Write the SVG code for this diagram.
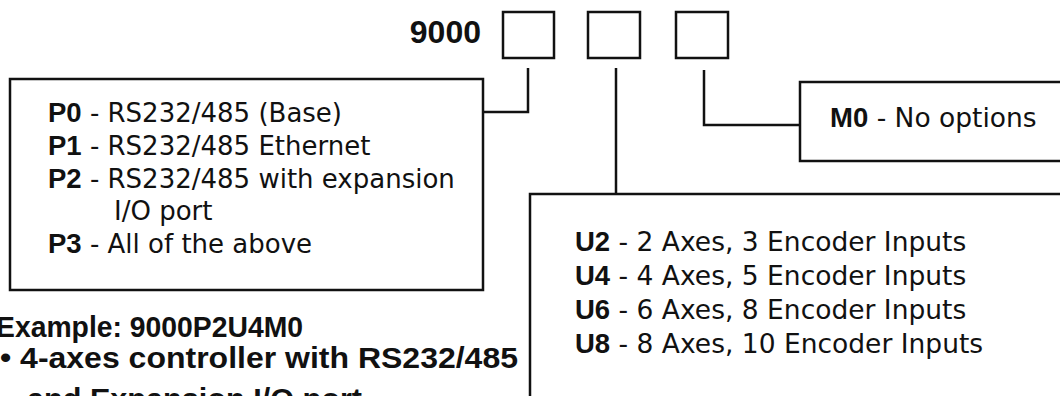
<svg xmlns="http://www.w3.org/2000/svg" width="1060" height="396" viewBox="0 0 1060 396">
<style>
.box{fill:none;stroke:#111;stroke-width:2.5}
.conn{fill:none;stroke:#111;stroke-width:2.5}
.t{font-family:"DejaVu Sans",sans-serif;font-size:26.5px;fill:#111}
.tp{font-family:"DejaVu Sans",sans-serif;font-size:26px;fill:#111}
.b{font-family:"Liberation Sans",Arial,sans-serif;font-weight:bold;font-size:27.5px;fill:#111}
.ex{font-family:"Liberation Sans",Arial,sans-serif;font-weight:bold;font-size:29px;fill:#111}
</style>
<rect width="1060" height="396" fill="#fff"/>
<g id="code">
<text x="481" y="43" text-anchor="end" font-family="Liberation Sans, Arial, sans-serif" font-weight="bold" font-size="32" fill="#111">9000</text>
<rect class="box" x="503" y="12" width="51" height="46"/>
<rect class="box" x="588" y="12" width="52" height="46"/>
<rect class="box" x="676" y="12" width="52" height="46"/>
</g>
<g id="connectors">
<path class="conn" d="M528,68 V112 H483"/>
<path class="conn" d="M616,68 V194"/>
<path class="conn" d="M704,70 V125 H800"/>
</g>
<g id="p-options">
<rect class="box" x="10" y="79" width="473" height="211"/>
<text class="tp" x="48" y="122"><tspan class="b">P0</tspan> - RS232/485 (Base)</text>
<text class="tp" x="48" y="155"><tspan class="b">P1</tspan> - RS232/485 Ethernet</text>
<text class="tp" x="48" y="188"><tspan class="b">P2</tspan> - RS232/485 with expansion</text>
<text class="tp" x="114" y="220">I/O port</text>
<text class="tp" x="48" y="253"><tspan class="b">P3</tspan> - All of the above</text>
</g>
<g id="m-options">
<rect class="box" x="800" y="82" width="270" height="79"/>
<text class="t" x="830" y="127"><tspan class="b">M0</tspan> - No options</text>
</g>
<g id="u-options">
<rect class="box" x="530" y="194" width="540" height="220"/>
<text class="t" x="575" y="251"><tspan class="b">U2</tspan> - 2 Axes, 3 Encoder Inputs</text>
<text class="t" x="575" y="285"><tspan class="b">U4</tspan> - 4 Axes, 5 Encoder Inputs</text>
<text class="t" x="575" y="319"><tspan class="b">U6</tspan> - 6 Axes, 8 Encoder Inputs</text>
<text class="t" x="575" y="353"><tspan class="b">U8</tspan> - 8 Axes, 10 Encoder Inputs</text>
</g>
<g id="example">
<text class="ex" x="-4" y="337" textLength="307" lengthAdjust="spacingAndGlyphs">Example: 9000P2U4M0</text>
<text class="ex" x="0" y="368" textLength="518" lengthAdjust="spacingAndGlyphs">• 4-axes controller with RS232/485</text>
<text class="ex" x="27" y="409" textLength="335" lengthAdjust="spacingAndGlyphs">and Expansion I/O port</text>
</g>
</svg>
